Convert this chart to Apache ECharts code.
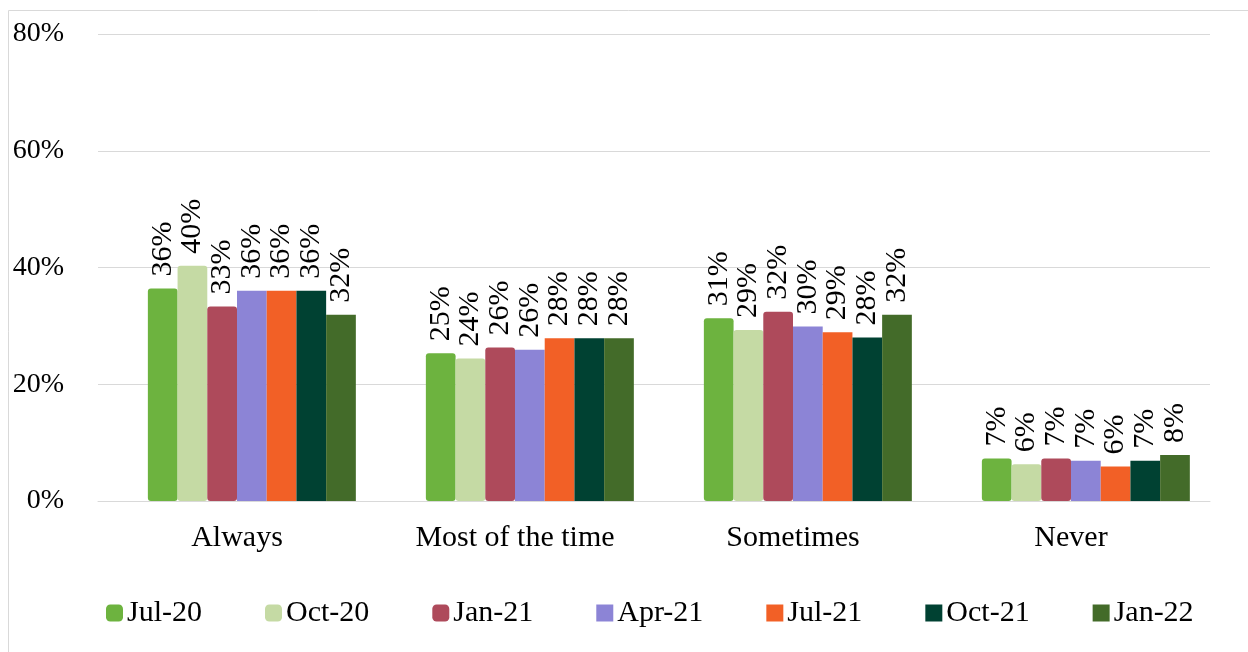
<!DOCTYPE html>
<html>
<head>
<meta charset="utf-8">
<script src="https://cdn.jsdelivr.net/npm/echarts@6/dist/echarts.min.js"></script>
<style>
  html, body { margin: 0; padding: 0; background: #fff; }
  #chart { width: 1248px; height: 652px; }
</style>
</head>
<body>
<div id="chart"></div>
<script>
// categories and series
var categories = ['Always', 'Most of the time', 'Sometimes', 'Never'];
var seriesNames = ['Jul-20', 'Oct-20', 'Jan-21', 'Apr-21', 'Jul-21', 'Oct-21', 'Jan-22'];
var seriesColors = ['#6DB33F', '#C5DAA4', '#AE4A5B', '#8C84D6', '#F26026', '#004132', '#436B29'];

// values in percent, per series (Always, Most, Sometimes, Never)
var jul20 = [36.4, 25.3, 31.3, 7.3];
var oct20 = [40.3, 24.4, 29.3, 6.3];
var jan21 = [33.3, 26.3, 32.4, 7.3];
var apr21 = [36.0, 25.9, 29.9, 6.9];
var jul21 = [36.0, 27.9, 28.9, 5.9];
var oct21 = [36.0, 27.9, 28.0, 6.9];
var jan22 = [31.9, 27.9, 31.9, 7.9];
var seriesValues = [jul20, oct20, jan21, apr21, jul21, oct21, jan22];

var yTicks = [0, 20, 40, 60, 80];

var font = '"Liberation Serif", "Times New Roman", serif';

var chart = echarts.init(document.getElementById('chart'));

// empty leading slot in each group (the source chart leaves one blank slot before the bars)
var series = [{
  name: 'blank',
  type: 'bar',
  data: categories.map(function () { return '-'; }),
  barGap: '0%',
  barCategoryGap: '14.5%',
  silent: true
}];

seriesNames.forEach(function (name, i) {
  var rounded = i < 3;
  series.push({
    name: name,
    type: 'bar',
    data: seriesValues[i],
    barGap: '0%',
    barCategoryGap: '14.5%',
    itemStyle: {
      color: seriesColors[i],
      borderRadius: rounded ? 3 : 0
    },
    label: {
      show: true,
      position: 'top',
      rotate: 90,
      align: 'left',
      verticalAlign: 'middle',
      distance: 12,
      color: '#000',
      fontFamily: font,
      fontSize: 30,
      formatter: function (p) { return Math.round(p.value) + '%'; }
    }
  });
});

chart.setOption({
  animation: false,
  graphic: [{
    type: 'rect',
    shape: { x: 8.5, y: 10.5, width: 1260, height: 700 },
    style: { fill: 'none', stroke: '#d9d9d9', lineWidth: 1 },
    silent: true,
    z: -1
  }],
  grid: { left: 98, right: 38, top: 34, bottom: 151 },
  legend: {
    left: 106,
    top: 598,
    padding: 0,
    itemWidth: 17,
    itemHeight: 17,
    itemGap: 63,
    textStyle: { fontFamily: font, fontSize: 30, color: '#000', padding: [0, 0, 0, -1] },
    data: seriesNames.map(function (n, i) {
      return { name: n, icon: i < 3 ? 'roundRect' : 'rect' };
    })
  },
  xAxis: {
    type: 'category',
    data: categories,
    axisLine: { show: true, lineStyle: { color: '#d9d9d9' } },
    axisTick: { show: false },
    axisLabel: { color: '#000', fontFamily: font, fontSize: 30, margin: 22 }
  },
  yAxis: {
    type: 'value',
    min: yTicks[0],
    max: yTicks[yTicks.length - 1],
    interval: 20,
    axisLine: { show: false },
    axisTick: { show: false },
    splitLine: { lineStyle: { color: '#d9d9d9' } },
    axisLabel: {
      color: '#000',
      fontFamily: font,
      fontSize: 28,
      margin: 34,
      formatter: function (v) { return v + '%'; }
    }
  },
  series: series
});
</script>
</body>
</html>
